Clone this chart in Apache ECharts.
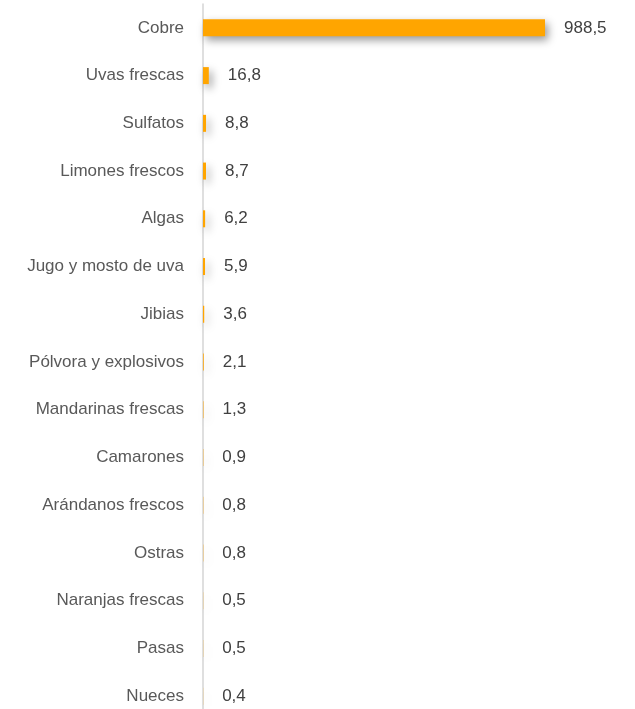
<!DOCTYPE html>
<html><head><meta charset="utf-8">
<script src="https://cdn.jsdelivr.net/npm/echarts@6/dist/echarts.min.js"></script>
<style>html,body{margin:0;padding:0;background:#fff}#c{width:635px;height:709px}</style>
</head><body><div id="c"></div>
<script>
var categories = ["Cobre","Uvas frescas","Sulfatos","Limones frescos","Algas","Jugo y mosto de uva","Jibias","Pólvora y explosivos","Mandarinas frescas","Camarones","Arándanos frescos","Ostras","Naranjas frescas","Pasas","Nueces"];
var values = [988.5,16.8,8.8,8.7,6.2,5.9,3.6,2.1,1.3,0.9,0.8,0.8,0.5,0.5,0.4];

var chart = echarts.init(document.getElementById('c'));
chart.setOption({
  animation:false,
  grid:{left:203,width:346,top:4,height:716,containLabel:false,outerBoundsMode:'none'},
  xAxis:{type:'value',min:0,max:1000,show:false},
  yAxis:{type:'category',data:categories,inverse:true,
    axisLine:{lineStyle:{color:'#d4d4d4',width:1.5}},
    axisTick:{show:false},
    axisLabel:{margin:19,color:'#595959',fontSize:17,fontFamily:'Liberation Sans, Arial, sans-serif'}},
  series:[{type:'bar',data:values,barWidth:17,
    itemStyle:{color:'#FFA500',shadowColor:'rgba(0,0,0,0.4)',shadowBlur:8,shadowOffsetX:3,shadowOffsetY:4},
    label:{show:true,position:'right',distance:19,color:'#404040',fontSize:17,fontFamily:'Liberation Sans, Arial, sans-serif',
      formatter:function(p){return p.value.toFixed(1).replace('.',',');}}
  }]
});
</script></body></html>
